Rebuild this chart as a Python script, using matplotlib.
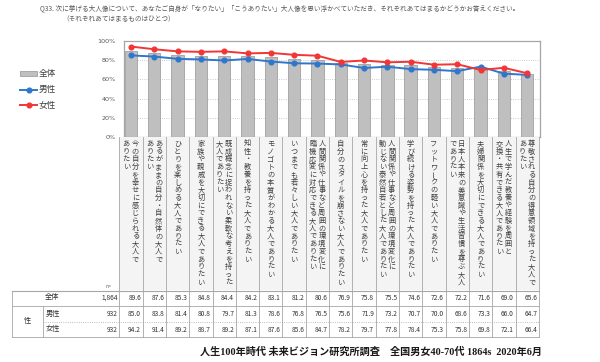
import matplotlib
matplotlib.use('Agg')
import matplotlib.pyplot as plt
from matplotlib.transforms import blended_transform_factory
from matplotlib.patches import Rectangle
import numpy as np

plt.rcParams['font.family'] = ['Noto Sans CJK JP', 'DejaVu Sans']

# ---------------- data ----------------
title_line1 = "Q33. 次に挙げる大人像について、あなたご自身が「なりたい」「こうありたい」大人像を思い浮かべていただき、それぞれあてはまるかどうかお答えください。"
title_line2 = "（それぞれあてはまるものはひとつ）"
footer = "人生100年時代 未来ビジョン研究所調査　全国男女40-70代 1864s  2020年6月"

# each label as its vertical columns (right column first)
labels = [
    ["今の自分を幸せに感じられる大人で", "ありたい"],
    ["あるがままの自分・自然体の大人で", "ありたい"],
    ["ひとりを楽しめる大人でありたい"],
    ["家族や親戚を大切にできる大人でありたい"],
    ["既成概念に捉われない柔軟な考えを持った", "大人でありたい"],
    ["知性・教養を持った大人でありたい"],
    ["モノゴトの本質がわかる大人でありたい"],
    ["いつまでも若々しい大人でありたい"],
    ["人間関係や仕事など周囲の環境変化に", "臨機応変に対応できる大人でありたい"],
    ["自分のスタイルを崩さない大人でありたい"],
    ["常に向上心を持った大人でありたい"],
    ["人間関係や仕事など周囲の環境変化に", "動じない泰然自若とした大人でありたい"],
    ["学び続ける姿勢を持った大人でありたい"],
    ["フットワークの軽い大人でありたい"],
    ["日本人本来の美意識や生活習慣を尊ぶ大人", "でありたい"],
    ["夫婦関係を大切にできる大人でありたい"],
    ["人生で学んだ教養や経験を周囲と", "交換・共有できる大人でありたい"],
    ["尊敬される自分の得意領域を持った大人で", "ありたい"],
]
total = [89.6, 87.6, 85.3, 84.8, 84.4, 84.2, 83.1, 81.2, 80.6,
         76.9, 75.8, 75.5, 74.6, 72.6, 72.2, 71.6, 69.0, 65.6]
male = [85.0, 83.8, 81.4, 80.8, 79.7, 81.3, 78.6, 76.8, 76.5,
        75.6, 71.9, 73.2, 70.7, 70.0, 68.6, 73.3, 66.0, 64.7]
female = [94.2, 91.4, 89.2, 88.7, 89.2, 87.1, 87.6, 85.6, 84.7,
          78.2, 79.7, 77.8, 78.4, 75.3, 75.8, 69.8, 72.1, 66.4]
series_names = ["全体", "男性", "女性"]
n_values = ["1,864", "932", "932"]
group_name = "性"
yticks = [0, 20, 40, 60, 80, 100]

# ---------------- figure ----------------
W, H = 600, 362
fig = plt.figure(figsize=(6, 3.62), dpi=100)

ax = fig.add_axes([124 / W, 1 - 137 / H, (540 - 124) / W, (137 - 41) / H])
x = np.arange(len(total))
bars = ax.bar(x, total, width=0.53, color='#bfbfbf', edgecolor='#a0a0a0',
              linewidth=0.6, zorder=2)
lm, = ax.plot(x, male, color='#2f77cc', marker='o', ms=3.4, lw=1.4, zorder=3)
lf, = ax.plot(x, female, color='#f23535', marker='o', ms=3.4, lw=1.4, zorder=4)
ax.set_xlim(-0.30, 17.55)
ax.set_ylim(0, 100)
ax.set_yticks(yticks)
ax.set_yticklabels([f'{t}%' for t in yticks], fontsize=4.6, color='#595959',
                   family=['DejaVu Sans'])
ax.set_xticks([])
ax.tick_params(axis='y', length=0, pad=6)
ax.grid(axis='y', linestyle=':', color='#bdbdbd', lw=0.6, zorder=0)
for s in ax.spines.values():
    s.set_color('#a6a6a6')
    s.set_linewidth(0.9)

leg = fig.legend([bars, lm, lf], series_names, loc='upper left',
                 bbox_to_anchor=(17 / W, 1 - 66 / H), frameon=False, fontsize=6.2,
                 handlelength=1.9, handleheight=0.55, labelspacing=0.8,
                 handletextpad=0.25, borderaxespad=0)
for t in leg.get_texts():
    t.set_color('#404040')

# overlay for titles, labels and table
ov = fig.add_axes([0, 0, 1, 1])
ov.set_xlim(0, W)
ov.set_ylim(H, 0)
ov.axis('off')
tr = blended_transform_factory(ax.transData, ov.transData)

ov.text(40, 8, title_line1, fontsize=4.8, color='#595959', va='center', ha='left')
ov.text(62, 19, title_line2, fontsize=4.8, color='#595959', va='center', ha='left')

line_c = '#a6a6a6'
n = len(total)
# label area background
ov.add_patch(Rectangle((-0.5, 137), n, 153, transform=tr,
                       facecolor='#f4f4f4', edgecolor='none', zorder=0))
for b in np.arange(-0.5, n, 1.0):
    ov.plot([b, b], [137, 337], transform=tr, color=line_c, lw=0.6)

step = 7.7
for i, cols in enumerate(labels):
    offs = [0.0] if len(cols) == 1 else [0.19, -0.2]
    for col, off in zip(cols, offs):
        for j, ch in enumerate(col):
            rot = 90 if ch == 'ー' else 0
            ov.text(i + off, 144 + j * step, ch, transform=tr, fontsize=5.2,
                    color='#404040', ha='center', va='center', rotation=rot)

# table
ov.text(108, 287, "n=", fontsize=3.6, color='#595959', ha='center', va='center')
xr = ax.transData.transform((n - 0.5, 0))[0]
xr = ov.transData.inverted().transform((xr, 0))[0]
ov.plot([12, xr], [290.5, 290.5], color=line_c, lw=0.8)
ov.plot([12, xr], [305.5, 305.5], color=line_c, lw=0.6)
ov.plot([43, xr], [321.5, 321.5], color=line_c, lw=0.6, linestyle=':')
ov.plot([12, xr], [337, 337], color=line_c, lw=0.6)
ov.plot([12, 12], [290.5, 337], color=line_c, lw=0.6)
ov.plot([43, 43], [305.5, 337], color=line_c, lw=0.6)

rows_y = [297.5, 313.5, 329.5]
ov.text(52, rows_y[0], series_names[0], fontsize=5.2, color='#333333',
        ha='center', va='center')
ov.text(46, rows_y[1], series_names[1], fontsize=5.2, color='#333333',
        ha='left', va='center')
ov.text(46, rows_y[2], series_names[2], fontsize=5.2, color='#333333',
        ha='left', va='center')
ov.text(27, 321.5, group_name, fontsize=5.2, color='#333333',
        ha='center', va='center')
for r, (nv, vals) in enumerate(zip(n_values, [total, male, female])):
    ov.text(-0.57, rows_y[r], nv, transform=tr, fontsize=4.8, color='#333333',
            ha='right', va='center')
    for i, v in enumerate(vals):
        ov.text(i + 0.43, rows_y[r], f'{v:.1f}', transform=tr, fontsize=4.8,
                color='#333333', ha='right', va='center')

ov.text(200, 352, footer, fontsize=7.3, color='#1a1a1a', ha='left', va='center',
        family=['Liberation Serif', 'Noto Sans CJK JP'], weight='bold')

fig.savefig('out.png', dpi=100)
